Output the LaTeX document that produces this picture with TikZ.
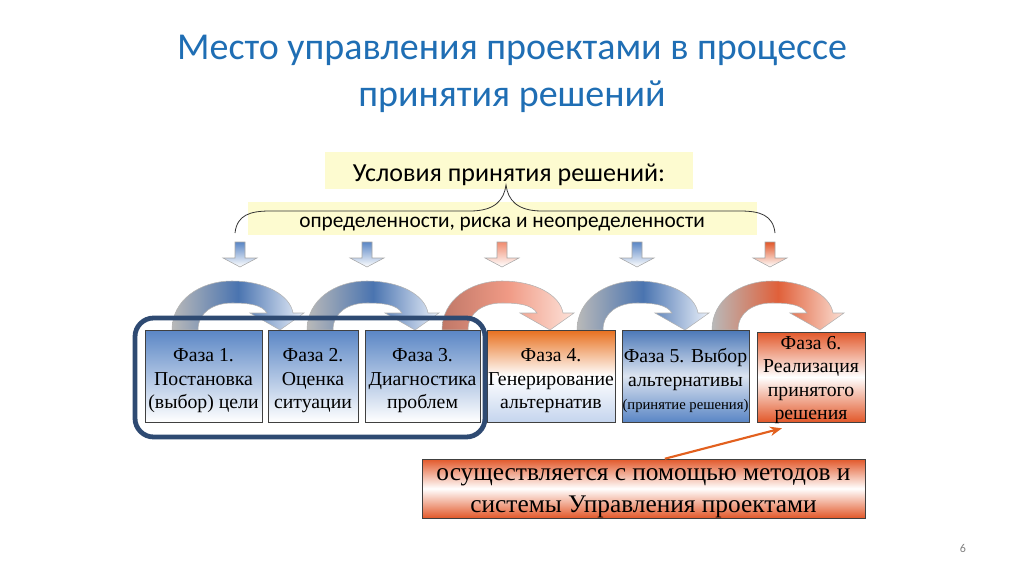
\documentclass[tikz,border=0pt]{standalone}
\usepackage{fontspec}
\setmainfont{Liberation Serif}
\newfontfamily\calibri{Carlito}
\usetikzlibrary{arrows.meta}
\definecolor{titleblue}{HTML}{1F6EB4}
\definecolor{boxblue}{HTML}{5A86C5}
\definecolor{boxblueD}{HTML}{4B78B8}
\definecolor{boxblueL}{HTML}{DCE4F0}
\definecolor{lightblue}{HTML}{C5D5EE}
\definecolor{orangeT}{HTML}{E8701E}
\definecolor{redorange}{HTML}{E2582A}
\definecolor{paleyellow}{HTML}{FDFBD0}
\definecolor{framblue}{HTML}{2E4A72}
\definecolor{arcblue}{HTML}{4A74B0}
\definecolor{arcblueL}{HTML}{EAF0FA}
\definecolor{arcsalL}{HTML}{C07868}
\definecolor{arcsal}{HTML}{F09A85}
\definecolor{arcsalR}{HTML}{FDE3DA}
\definecolor{arcorg}{HTML}{E0603A}
\definecolor{arcorgR}{HTML}{FBE0D5}
\definecolor{salmon}{HTML}{F08C70}
\definecolor{arrowor}{HTML}{E2601E}
\newcommand\dnarrow[2]{%
  \path[draw=gray!70, line width=0.4pt, top color=#2, bottom color=white]
    (#1-5,242) -- (#1+5,242) -- (#1+5,258) -- (#1+17,258) -- (#1,267)
    -- (#1-17,258) -- (#1-5,258) -- cycle;}
\newcommand\curvarr[2]{%
  \path[#2, draw=gray!60, line width=0.4pt, shift={(#1,0)}]
    (172,330) .. controls (172,300) and (200,281) .. (232,281)
    .. controls (265,281) and (290,295) .. (293,313)
    -- (304,313) -- (280,330) -- (250,313) -- (267,313)
    .. controls (262,305) and (250,303) .. (232,303)
    .. controls (214,303) and (198,312) .. (198,330) -- cycle;}
\tikzset{
  phasebox/.style={draw=gray!50!black, line width=0.4pt, inner sep=0pt},
  phasetext/.style={align=center, font=\fontsize{14.8}{17.5}\selectfont, inner sep=0pt, yshift=-3.5pt},
  bluebox/.style={phasebox, top color=boxblue, bottom color=white},
  arcB/.style={left color=gray!55, right color=arcblueL, middle color=arcblue},
  arcS/.style={left color=arcsalL, right color=arcsalR, middle color=arcsal},
  arcO/.style={left color=gray!55, right color=arcorgR, middle color=arcorg},
}
\begin{document}
\begin{tikzpicture}[x=0.75pt, y=-0.75pt]
\useasboundingbox (0,0) rectangle (1024,574);
% title
\node[anchor=base, font=\calibri\fontsize{28.5}{32}\selectfont, text=titleblue] (t1) at (512,60) {Место управления проектами в процессе};
\node[anchor=base, font=\calibri\fontsize{28.5}{32}\selectfont, text=titleblue] (t2) at (512,107) {принятия решений};
% yellow bands
\fill[paleyellow] (325,152) rectangle (693,189);
\fill[paleyellow] (248,202) rectangle (757,235);
\node[anchor=base, font=\calibri\fontsize{19.5}{22}\selectfont] (cond) at (509,181) {Условия принятия решений:};
\node[anchor=base, font=\calibri\fontsize{16}{19}\selectfont] (cond2) at (502,227) {определенности, риска и неопределенности};
% brace
\draw[black!80, line width=0.6pt] (235,233) .. controls (237,215) and (250,211) .. (270,211) -- (470,211)
  .. controls (495,211) and (504,200) .. (506,185)
  .. controls (508,200) and (517,211) .. (542,211) -- (740,211)
  .. controls (760,211) and (773,215) .. (775,233);
% small arrows
\dnarrow{240}{boxblue}
\dnarrow{367}{boxblue}
\dnarrow{502}{salmon}
\dnarrow{637}{boxblue}
\dnarrow{770}{redorange}
% curved arrows
\curvarr{0}{arcB}
\curvarr{135}{arcB}
\curvarr{270}{arcS}
\curvarr{405}{arcB}
\curvarr{540}{arcO}
% phase boxes
\node[bluebox, minimum width=87.75pt, minimum height=69pt] (p1) at (203.5,376) {};
\node[bluebox, minimum width=67.5pt, minimum height=69pt] (p2) at (313,376) {};
\node[bluebox, minimum width=86.25pt, minimum height=69pt] (p3) at (422.5,376) {};
\node[phasebox, minimum width=96pt, minimum height=69pt, top color=orangeT, bottom color=lightblue, middle color=white] (p4) at (551,376) {};
\node[phasebox, minimum width=95.25pt, minimum height=69pt, top color=boxblueD, bottom color=boxblue, middle color=boxblueL] (p5) at (685.5,376) {};
\node[phasebox, minimum width=81pt, minimum height=67.5pt, top color=redorange, bottom color=redorange, middle color=white] (p6) at (811,377) {};
\node[phasetext] (p1t) at (p1.center) {Фаза 1.\\Постановка\\(выбор) цели};
\node[phasetext] (p2t) at (p2.center) {Фаза 2.\\Оценка\\ситуации};
\node[phasetext] (p3t) at (p3.center) {Фаза 3.\\Диагностика\\проблем};
\node[phasetext] (p4t) at (p4.center) {Фаза 4.\\Генерирование\\альтернатив};
\node[phasetext] (p5t) at (p5.center) {Фаза 5. Выбор\\альтернативы\\{\fontsize{11}{13}\selectfont(принятие решения)}};
\node[phasetext, yshift=1.2pt] (p6t) at (p6.center) {Фаза 6.\\Реализация\\принятого\\решения};
% frame around phases 1-3
\draw[framblue, line width=3.6pt, rounded corners=14pt] (135,318) rectangle (485,437);
% note
\node[phasebox, minimum width=332.25pt, minimum height=44.25pt, top color=redorange, bottom color=redorange, middle color=white] (note) at (643.5,488.5) {};
\node[align=center, inner sep=0pt, font=\fontsize{19}{24}\selectfont, yshift=-3.5pt] (notet) at (note.center) {осуществляется с помощью методов и\\системы Управления проектами};
\draw[arrowor, line width=1.6pt, -{Stealth[length=9pt, width=7pt]}] ([xshift=16pt]note.north) -- ([xshift=-21.75pt, yshift=-4.5pt]p6.south);
% page number
\node[font=\calibri\fontsize{9}{11}\selectfont, text=gray] (pg) at (963,548) {6};
\end{tikzpicture}
\end{document}
